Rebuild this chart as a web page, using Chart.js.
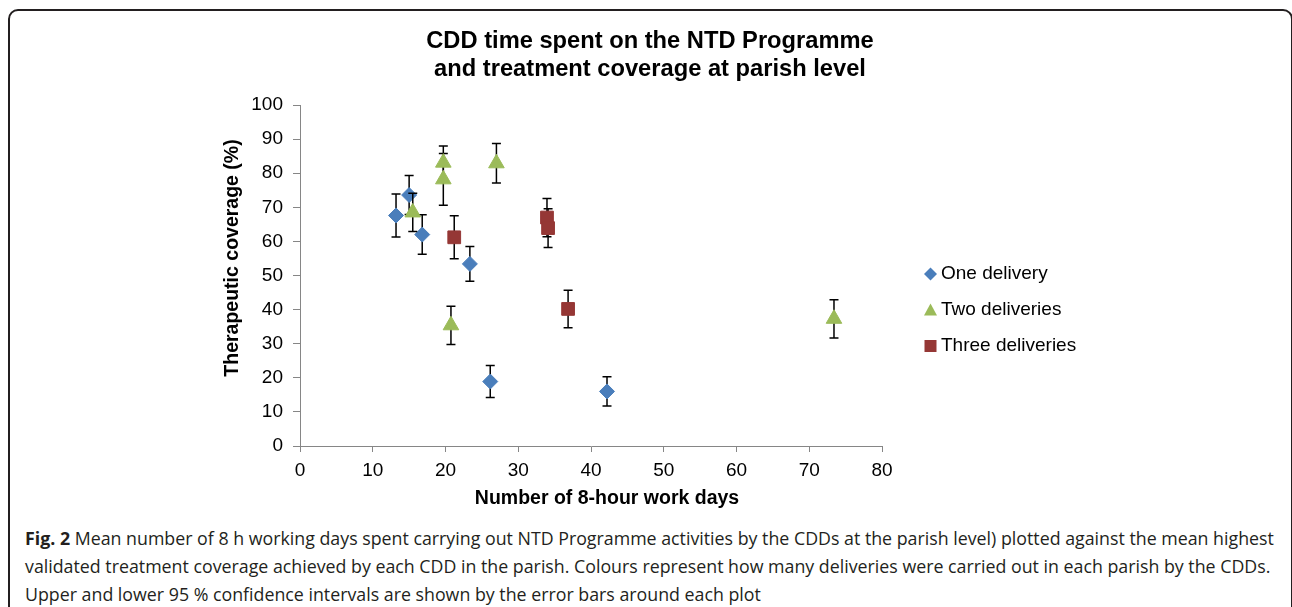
<!DOCTYPE html>
<html><head><meta charset="utf-8">
<script src="https://cdn.jsdelivr.net/npm/chart.js@4.4.1/dist/chart.umd.min.js"></script>
<style>
html,body{margin:0;padding:0;background:#fff;width:1292px;height:607px;overflow:hidden;position:relative;}
#frame{position:absolute;left:8px;top:9px;width:1285px;height:700px;border:2px solid #231f20;border-radius:10px;box-sizing:border-box;}
#chart{position:absolute;left:0;top:0;}
#caption{position:absolute;left:25px;top:524px;font-family:'Open Sans',sans-serif;font-size:17.8px;line-height:28px;color:#231f20;white-space:nowrap;}
#caption b{font-weight:700;}
</style>
</head><body>
<div id="frame"></div>
<canvas id="chart" width="1292" height="520"></canvas>
<div id="caption">
<div><b>Fig. 2</b> Mean number of 8 h working days spent carrying out NTD Programme activities by the CDDs at the parish level) plotted against the mean highest</div>
<div>validated treatment coverage achieved by each CDD in the parish. Colours represent how many deliveries were carried out in each parish by the CDDs.</div>
<div>Upper and lower 95 % confidence intervals are shown by the error bars around each plot</div>
</div>
<script>
// ---- data ----
const seriesNames = ['One delivery', 'Two deliveries', 'Three deliveries'];
const oneX   = [13.2, 15.0, 16.8, 23.35, 26.15, 42.2];
const oneY   = [67.6, 73.6, 62.0, 53.4, 18.9, 16.0];
const oneErr = [6.3, 5.7, 5.8, 5.1, 4.7, 4.3];
const twoX   = [15.5, 19.7, 19.7, 27.0, 20.75, 73.4];
const twoY   = [68.5, 83.1, 78.2, 82.9, 35.4, 37.3];
const twoErr = [5.6, 4.9, 7.6, 5.8, 5.6, 5.6];
const threeX   = [21.2, 33.95, 34.1, 36.85];
const threeY   = [61.2, 67.0, 63.9, 40.2];
const threeErr = [6.3, 5.6, 5.7, 5.5];
const xTickValues = [0, 10, 20, 30, 40, 50, 60, 70, 80];
const yTickValues = [0, 10, 20, 30, 40, 50, 60, 70, 80, 90, 100];
const chartTitle = ['CDD time spent on the NTD Programme', 'and treatment coverage at parish level'];
const xTitle = 'Number of 8-hour work days';
const yTitle = 'Therapeutic coverage (%)';

const colors = ['#4A7EBB', '#9BBB59', '#953735'];
const styles = ['rectRot', 'triangle', 'rect'];
const radii = [7.5, 9, 9];
const FONT = "'Liberation Sans', Arial, sans-serif";

function pts(xs, ys) { return xs.map((x, i) => ({x: x, y: ys[i]})); }
const allX = [oneX, twoX, threeX], allY = [oneY, twoY, threeY], allErr = [oneErr, twoErr, threeErr];

const datasets = seriesNames.map((name, k) => ({
  label: name,
  data: pts(allX[k], allY[k]),
  errorBars: allErr[k],
  pointStyle: styles[k],
  pointRadius: radii[k],
  pointHoverRadius: radii[k],
  backgroundColor: colors[k],
  borderColor: colors[k],
  borderWidth: 1,
  showLine: false,
  order: 3 - k
}));

const errorBarPlugin = {
  id: 'errorBars',
  beforeDatasetDraw(chart, args) {
    const ds = chart.data.datasets[args.index];
    const meta = args.meta;
    const ys = chart.scales.y;
    const ctx = chart.ctx;
    ctx.save();
    ctx.strokeStyle = '#000';
    ctx.lineWidth = 1.5;
    ds.data.forEach((p, i) => {
      const el = meta.data[i];
      const x = el.x;
      const t = ys.getPixelForValue(p.y + ds.errorBars[i]);
      const b = ys.getPixelForValue(p.y - ds.errorBars[i]);
      ctx.beginPath();
      ctx.moveTo(x, t); ctx.lineTo(x, b);
      ctx.moveTo(x - 4.5, t); ctx.lineTo(x + 4.5, t);
      ctx.moveTo(x - 4.5, b); ctx.lineTo(x + 4.5, b);
      ctx.stroke();
    });
    ctx.restore();
  }
};

function drawMarker(ctx, style, x, y, s) {
  ctx.beginPath();
  if (style === 'rectRot') {
    ctx.moveTo(x - s, y); ctx.lineTo(x, y - s); ctx.lineTo(x + s, y); ctx.lineTo(x, y + s);
  } else if (style === 'triangle') {
    ctx.moveTo(x, y - s); ctx.lineTo(x + s, y + s * 0.85); ctx.lineTo(x - s, y + s * 0.85);
  } else {
    ctx.rect(x - s, y - s, 2 * s, 2 * s);
  }
  ctx.closePath();
  ctx.fill();
}

const textPlugin = {
  id: 'extraText',
  afterDraw(chart) {
    const ctx = chart.ctx;
    const a = chart.chartArea;
    ctx.save();
    ctx.fillStyle = '#000';
    // axis titles
    ctx.font = 'bold 19.5px ' + FONT;
    ctx.textAlign = 'center';
    ctx.textBaseline = 'middle';
    ctx.fillText(xTitle, a.left + 307, a.bottom + 53);
    ctx.save();
    ctx.translate(a.left - 67, a.top + 153);
    ctx.rotate(-Math.PI / 2);
    ctx.fillText(yTitle, 0, 0);
    ctx.restore();
    // legend
    ctx.font = '19px ' + FONT;
    ctx.textAlign = 'left';
    const lx = a.right + 48.5;
    seriesNames.forEach((name, k) => {
      const ly = a.top + 169 + k * 36;
      ctx.fillStyle = colors[k];
      drawMarker(ctx, styles[k], lx, ly, k === 2 ? 6 : 6.5);
      ctx.fillStyle = '#000';
      ctx.fillText(name, lx + 10.5, ly);
    });
    ctx.restore();
  }
};

new Chart(document.getElementById('chart'), {
  type: 'scatter',
  data: { datasets: datasets },
  plugins: [errorBarPlugin, textPlugin],
  options: {
    responsive: false,
    animation: false,
    events: [],
    layout: { padding: { left: 8, right: 0, top: 0, bottom: 0 } },
    plugins: {
      legend: { display: false },
      tooltip: { enabled: false },
      title: {
        display: true,
        text: chartTitle,
        color: '#000',
        font: { family: FONT, size: 23.7, weight: 'bold', lineHeight: '28.5px' },
        padding: { top: 27, bottom: 21 }
      }
    },
    scales: {
      x: {
        type: 'linear',
        min: 0, max: 80,
        afterBuildTicks(s) { s.ticks = xTickValues.map(v => ({value: v})); },
        afterFit(s) { s.height = 74; },
        border: { display: true, color: '#868686', width: 1 },
        grid: { display: true, drawOnChartArea: false, drawTicks: true, tickLength: 6, color: '#868686' },
        ticks: { color: '#000', font: { family: FONT, size: 19 }, padding: 7, maxRotation: 0 }
      },
      y: {
        type: 'linear',
        min: 0, max: 100,
        afterBuildTicks(s) { s.ticks = yTickValues.map(v => ({value: v})); },
        afterFit(s) { s.width = 292; },
        border: { display: true, color: '#868686', width: 1 },
        grid: { display: true, drawOnChartArea: false, drawTicks: true, tickLength: 7, color: '#868686' },
        ticks: { color: '#000', font: { family: FONT, size: 19 }, padding: 10 }
      },
      legendSpace: {
        type: 'linear',
        position: 'right',
        min: 0, max: 1,
        afterFit(s) { s.width = 410; },
        border: { display: false },
        grid: { display: false },
        ticks: { display: false }
      }
    }
  }
});
</script>
</body></html>
